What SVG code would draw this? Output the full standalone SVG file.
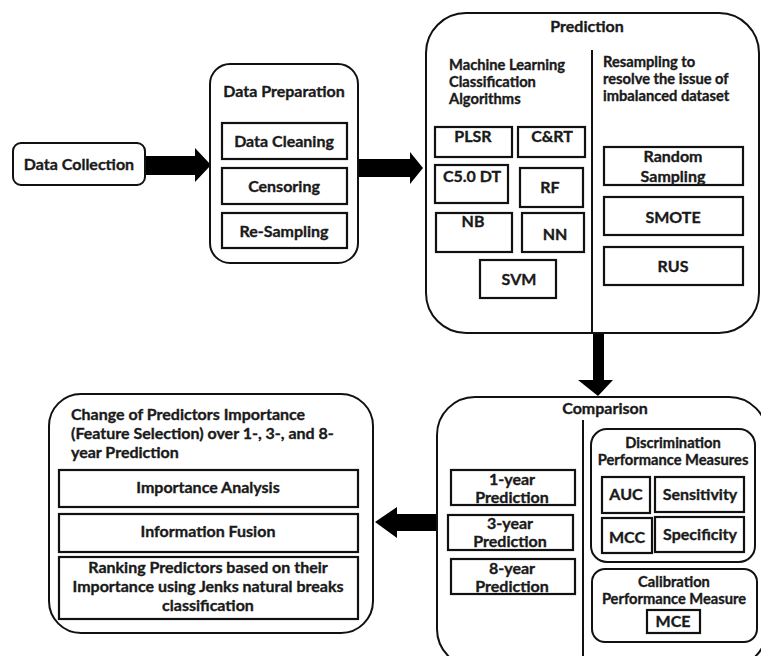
<svg xmlns="http://www.w3.org/2000/svg" width="761" height="656" viewBox="0 0 761 656">
<style>
text{font-family:Lato,"Open Sans","Liberation Sans",sans-serif;font-weight:bold;font-size:16px;fill:#1a1a1a;stroke:#1a1a1a;stroke-width:0.35}
.c{text-anchor:middle}
.s{font-size:14.7px}
.box{fill:#fff;stroke:#111;stroke-width:2.2}
.cont{fill:#fff;stroke:#111;stroke-width:2}
.div{stroke:#111;stroke-width:2}
.arr{fill:#000}
</style>
<rect width="761" height="656" fill="#fff"/>
<g id="connectors">
<polygon class="arr" points="145,156 195,156 195,148 211,165 195,182 195,175 145,175"/>
<polygon class="arr" points="358,159 410,159 410,152 423,168 410,184 410,177 358,177"/>
<polygon class="arr" points="593,333 604,333 604,380 613,380 598,396 578,380 593,380"/>
<polygon class="arr" points="437,514 397,514 397,507 375,522 397,538 397,531 437,531"/>
</g>
<g id="data-collection">
<rect class="cont" x="13" y="143" width="132" height="42" rx="8"/>
<text class="c" x="79" y="170">Data Collection</text>
</g>
<g id="data-preparation">
<rect class="cont" x="210" y="64" width="148" height="199" rx="20"/>
<text class="c" x="284" y="97">Data Preparation</text>
<rect class="box" x="222" y="123" width="125" height="36"/>
<text class="c" x="284" y="147">Data Cleaning</text>
<rect class="box" x="222" y="168" width="125" height="36"/>
<text class="c" x="284" y="192">Censoring</text>
<rect class="box" x="222" y="213" width="125" height="35"/>
<text class="c" x="284" y="237">Re-Sampling</text>
</g>
<g id="prediction">
<rect class="cont" x="426" y="13" width="333" height="320" rx="40"/>
<text class="c" x="587" y="32">Prediction</text>
<line class="div" x1="592" y1="50" x2="592" y2="333"/>
<text class="s" x="449" y="70">Machine Learning</text>
<text class="s" x="449" y="87">Classification</text>
<text class="s" x="449" y="104">Algorithms</text>
<text class="s" x="603" y="67">Resampling to</text>
<text class="s" x="603" y="84">resolve the issue of</text>
<text class="s" x="603" y="101">imbalanced dataset</text>
<rect class="box" x="435" y="127" width="77" height="30"/>
<text class="c" x="473" y="142">PLSR</text>
<rect class="box" x="518" y="127" width="67" height="30"/>
<text class="c" x="552" y="142">C&amp;RT</text>
<rect class="box" x="435" y="165" width="73" height="38"/>
<text class="c" x="472" y="182">C5.0 DT</text>
<rect class="box" x="520" y="168" width="63" height="39"/>
<text class="c" x="550" y="193">RF</text>
<rect class="box" x="436" y="213" width="76" height="39"/>
<text class="c" x="473" y="227">NB</text>
<rect class="box" x="522" y="213" width="62" height="39"/>
<text class="c" x="555" y="240">NN</text>
<rect class="box" x="480" y="260" width="76" height="38"/>
<text class="c" x="519" y="285">SVM</text>
<rect class="box" x="604" y="147" width="139" height="38"/>
<text class="c" x="673" y="162">Random</text>
<text class="c" x="673" y="182">Sampling</text>
<rect class="box" x="604" y="197" width="139" height="38"/>
<text class="c" x="673" y="223">SMOTE</text>
<rect class="box" x="604" y="247" width="139" height="38"/>
<text class="c" x="673" y="272">RUS</text>
</g>
<g id="comparison">
<rect class="cont" x="437" y="397" width="330" height="270" rx="38"/>
<text class="c" x="605" y="414">Comparison</text>
<line class="div" x1="583" y1="420" x2="583" y2="656"/>
<rect class="box" x="451" y="470" width="124" height="35"/>
<text class="c" x="512" y="485">1-year</text>
<text class="c" x="512" y="503">Prediction</text>
<rect class="box" x="448" y="515" width="125" height="35"/>
<text class="c" x="510" y="529">3-year</text>
<text class="c" x="510" y="547">Prediction</text>
<rect class="box" x="451" y="559" width="124" height="35"/>
<text class="c" x="512" y="574">8-year</text>
<text class="c" x="512" y="592">Prediction</text>
<g id="discrimination">
<rect class="cont" x="591" y="429" width="164" height="133" rx="16"/>
<text class="c s" x="673" y="448">Discrimination</text>
<text class="c s" x="673" y="465">Performance Measures</text>
<rect class="box" x="602" y="477" width="48" height="36"/>
<text class="c" x="626" y="500">AUC</text>
<rect class="box" x="655" y="477" width="89" height="35"/>
<text class="c" x="700" y="500">Sensitivity</text>
<rect class="box" x="602" y="518" width="50" height="35"/>
<text class="c" x="627" y="543">MCC</text>
<rect class="box" x="655" y="517" width="89" height="35"/>
<text class="c" x="700" y="540">Specificity</text>
</g>
<g id="calibration">
<rect class="cont" x="592" y="569" width="165" height="73" rx="13"/>
<text class="c s" x="674" y="587">Calibration</text>
<text class="c s" x="674" y="604">Performance Measure</text>
<rect class="box" x="647" y="610" width="53" height="23"/>
<text class="c" x="673" y="627">MCE</text>
</g>
</g>
<g id="feature-selection">
<rect class="cont" x="49" y="394" width="324" height="239" rx="32"/>
<text x="71" y="420">Change of Predictors Importance</text>
<text x="71" y="439">(Feature Selection) over 1-, 3-, and 8-</text>
<text x="71" y="458">year Prediction</text>
<rect class="box" x="59" y="470" width="299" height="37"/>
<text class="c" x="208" y="493">Importance Analysis</text>
<rect class="box" x="59" y="514" width="299" height="38"/>
<text class="c" x="208" y="537">Information Fusion</text>
<rect class="box" x="59" y="557" width="299" height="62"/>
<text class="c" x="208" y="573">Ranking Predictors based on their</text>
<text class="c" x="208" y="592">Importance using Jenks natural breaks</text>
<text class="c" x="208" y="611">classification</text>
</g>
</svg>
